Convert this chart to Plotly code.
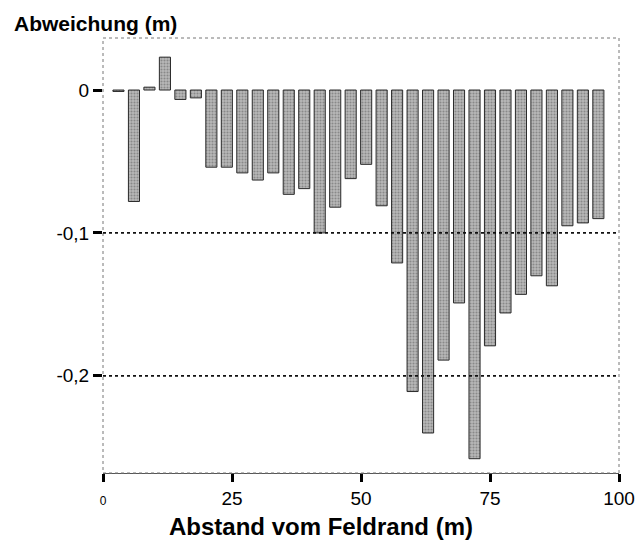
import plotly.graph_objects as go

distance_m = [3, 6, 9, 12, 15, 18, 21, 24, 27, 30, 33, 36, 39, 42, 45, 48,
              51, 54, 57, 60, 63, 66, 69, 72, 75, 78, 81, 84, 87, 90, 93, 96]
deviation_m = [-0.001, -0.078, 0.002, 0.023, -0.0066, -0.0055, -0.054, -0.054,
               -0.058, -0.063, -0.058, -0.073, -0.069, -0.100, -0.082, -0.062,
               -0.052, -0.081, -0.121, -0.211, -0.240, -0.189, -0.149, -0.258,
               -0.179, -0.156, -0.143, -0.130, -0.137, -0.095, -0.093, -0.090]

x_ticks = [0, 25, 50, 75, 100]
x_ticklabels = ["<span style='font-size:12px'>0</span>", "25", "50", "75", "100"]
y_ticks = [0, -0.1, -0.2]
y_ticklabels = ["0", "-0,1", "-0,2"]
grid_levels = [-0.1, -0.2]

FONT = "Liberation Sans, Arial, Helvetica, sans-serif"

fig = go.Figure()
fig.add_trace(go.Bar(
    x=distance_m, y=deviation_m, width=2.15,
    marker=dict(color="#aaaaaa",
                line=dict(color="#2a2a2a", width=1),
                pattern=dict(shape=".", fgcolor="#5a5a5a", bgcolor="#b8b8b8",
                             size=3, solidity=0.4)),
    showlegend=False,
))

shapes = []
# dotted frame (left, top, right)
shapes.append(dict(type="rect", xref="paper", yref="paper", x0=0, x1=1, y0=0, y1=1,
                   line=dict(color="#777777", width=1, dash="dot"), layer="above"))
for g in grid_levels:
    shapes.append(dict(type="line", xref="paper", yref="y", x0=0, x1=1, y0=g, y1=g,
                       line=dict(color="#111111", width=1.6, dash="dot"), layer="above"))

fig.update_layout(
    width=641, height=544,
    margin=dict(l=103, r=22, t=38, b=71),
    paper_bgcolor="white", plot_bgcolor="white",
    font=dict(family=FONT, color="black", size=19),
    shapes=shapes,
    xaxis=dict(range=[0, 100], tickvals=x_ticks, ticktext=x_ticklabels,
               ticks="outside", ticklen=8, tickwidth=3, tickcolor="black",
               showline=True, linecolor="#555555", linewidth=1,
               showgrid=False, zeroline=False, automargin=False,
               tickfont=dict(size=19, family=FONT)),
    yaxis=dict(range=[-0.268, 0.0364], tickvals=y_ticks, ticktext=y_ticklabels,
               ticks="outside", ticklen=9, tickwidth=3, tickcolor="black",
               showline=False, showgrid=False, zeroline=False, automargin=False,
               tickfont=dict(size=19, family=FONT)),
    annotations=[
        dict(text="<b>Abweichung (m)</b>", xref="paper", yref="paper",
             x=-91/516, y=1, xanchor="left", yanchor="middle",
             yshift=15, showarrow=False,
             font=dict(size=21, family=FONT)),
        dict(text="<b>Abstand vom Feldrand (m)</b>", xref="paper", yref="paper",
             x=218/516, y=0, xanchor="center", yanchor="middle",
             yshift=-53, showarrow=False,
             font=dict(size=24, family=FONT)),
    ],
)

fig.write_html("out.html")
